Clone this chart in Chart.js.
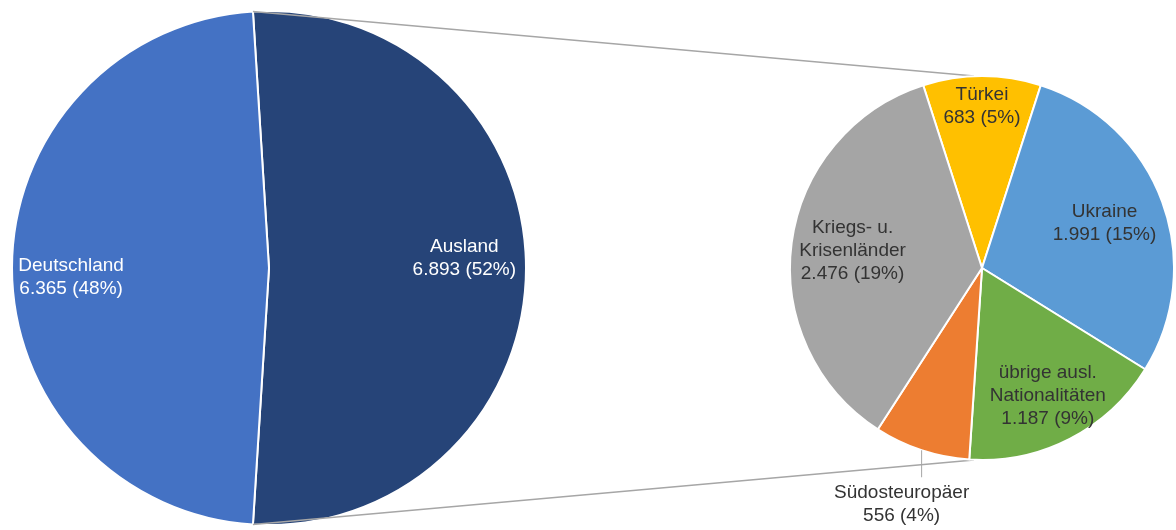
<!DOCTYPE html>
<html lang="de">
<head>
<meta charset="UTF-8">
<title>Herkunft der Teilnehmenden</title>
<script src="https://cdn.jsdelivr.net/npm/chart.js"></script>
<style>
  body { margin: 0; background: #fff; }
  #wrap { position: relative; width: 1176px; height: 530px; }
  #wrap canvas { position: absolute; left: 0; top: 0; }
</style>
</head>
<body>
<div id="wrap">
  <canvas id="kuchenGesamt" width="1176" height="530"></canvas>
  <canvas id="kuchenAusland" width="1176" height="530"></canvas>
</div>
<script>
// Gesamt: Deutschland / Ausland
const herkunft = ['Ausland', 'Deutschland'];
const herkunftWerte = [6893, 6365];
const herkunftFarben = ['#264478', '#4472C4'];

// Aufteilung Ausland
const nationen = ['Türkei', 'Ukraine', ['übrige ausl.', 'Nationalitäten'], 'Südosteuropäer', ['Kriegs- u.', 'Krisenländer']];
const nationenWerte = [683, 1991, 1187, 556, 2476];
const nationenFarben = ['#FFC000', '#5B9BD5', '#70AD47', '#ED7D31', '#A5A5A5'];

const gesamt = herkunftWerte.reduce((a, b) => a + b, 0);
const auslandSumme = nationenWerte.reduce((a, b) => a + b, 0);

// Lage der Beschriftungen: Anteil vom Radius entlang der Segmentmitte
const lageGesamt = [{ f: 0.76, dy: -9.5 }, { f: 0.77, dy: 9.5 }];
const lageAusland = [{ f: 0.84 }, { f: 0.68 }, { f: 0.75 }, { aussen: true, fall: 27, dx: -20 }, { f: 0.68 }];

const zahl = v => String(v).replace(/\B(?=(\d{3})+(?!\d))/g, '.');

function beschriftung(lage, farbe) {
  return {
    id: 'beschriftung',
    afterDatasetsDraw(chart) {
      const ctx = chart.ctx;
      const werte = chart.data.datasets[0].data;
      const zh = 23;
      ctx.save();
      ctx.font = '19px "Liberation Sans", Arial, sans-serif';
      ctx.textAlign = 'center';
      ctx.textBaseline = 'middle';
      chart.getDatasetMeta(0).data.forEach((arc, i) => {
        const p = arc.getProps(['x', 'y', 'startAngle', 'endAngle', 'outerRadius'], true);
        const mitte = (p.startAngle + p.endAngle) / 2;
        const name = chart.data.labels[i];
        const zeilen = (Array.isArray(name) ? name : [name])
          .concat(zahl(werte[i]) + ' (' + Math.round(werte[i] / gesamt * 100) + '%)');
        const l = lage[i];
        let tx, ty;
        if (l.aussen) {
          const ax = p.x + Math.cos(mitte) * p.outerRadius;
          const ay = p.y + Math.sin(mitte) * p.outerRadius;
          ctx.strokeStyle = '#a6a6a6';
          ctx.lineWidth = 1;
          ctx.beginPath();
          ctx.moveTo(ax, ay);
          ctx.lineTo(ax, ay + l.fall);
          ctx.stroke();
          tx = ax + l.dx;
          ty = ay + l.fall + 16 + (zeilen.length - 1) * zh / 2;
        } else {
          tx = p.x + Math.cos(mitte) * p.outerRadius * l.f;
          ty = p.y + Math.sin(mitte) * p.outerRadius * l.f + (l.dy || 0);
        }
        ctx.fillStyle = farbe;
        const y0 = ty - (zeilen.length - 1) * zh / 2;
        zeilen.forEach((z, k) => ctx.fillText(z, tx, y0 + k * zh));
      });
      ctx.restore();
    }
  };
}

const gesamtChart = new Chart(document.getElementById('kuchenGesamt'), {
  type: 'pie',
  data: {
    labels: herkunft,
    datasets: [{
      data: herkunftWerte,
      backgroundColor: herkunftFarben,
      borderColor: '#ffffff',
      borderWidth: 2
    }]
  },
  options: {
    responsive: false,
    animation: false,
    rotation: 90 - herkunftWerte[0] / gesamt * 180,
    layout: { padding: { left: 11, top: 10, right: 649, bottom: 4 } },
    plugins: { legend: { display: false }, tooltip: { enabled: false } }
  },
  plugins: [beschriftung(lageGesamt, '#ffffff')]
});

// Verbindungslinien vom Ausland-Segment zum zweiten Kreis
const verbinder = {
  id: 'verbinder',
  beforeDatasetsDraw(chart) {
    const a = gesamtChart.getDatasetMeta(0).data[0].getProps(['x', 'y', 'startAngle', 'endAngle', 'outerRadius'], true);
    const b = chart.getDatasetMeta(0).data[0].getProps(['x', 'y', 'outerRadius'], true);
    const ctx = chart.ctx;
    ctx.save();
    ctx.strokeStyle = '#a6a6a6';
    ctx.lineWidth = 1.3;
    [[a.startAngle, -1], [a.endAngle, 1]].forEach(([w, s]) => {
      ctx.beginPath();
      ctx.moveTo(a.x + Math.cos(w) * a.outerRadius, a.y + Math.sin(w) * a.outerRadius);
      ctx.lineTo(b.x - 8, b.y + s * b.outerRadius);
      ctx.stroke();
    });
    ctx.restore();
  }
};

new Chart(document.getElementById('kuchenAusland'), {
  type: 'pie',
  data: {
    labels: nationen,
    datasets: [{
      data: nationenWerte,
      backgroundColor: nationenFarben,
      borderColor: '#ffffff',
      borderWidth: 2
    }]
  },
  options: {
    responsive: false,
    animation: false,
    rotation: -nationenWerte[0] / auslandSumme * 180,
    layout: { padding: { left: 789, top: 75, right: 1, bottom: 69 } },
    plugins: { legend: { display: false }, tooltip: { enabled: false } }
  },
  plugins: [verbinder, beschriftung(lageAusland, '#333333')]
});
</script>
</body>
</html>
